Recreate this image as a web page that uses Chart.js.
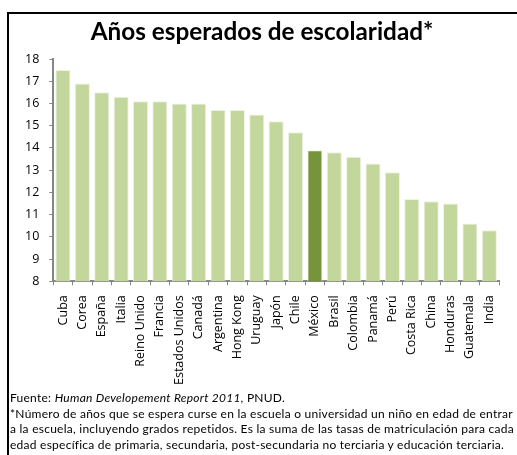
<!DOCTYPE html>
<html>
<head>
<meta charset="utf-8">
<script src="https://cdn.jsdelivr.net/npm/chart.js@4/dist/chart.umd.min.js"></script>
<style>
  html, body { margin: 0; padding: 0; background: #fff; }
  body { width: 517px; height: 455px; position: relative; overflow: hidden; font-family: Lato, 'Open Sans', sans-serif; }
  #frame { position: absolute; left: 7px; top: 12px; width: 520px; height: 460px;
           border-left: 2px solid #000; border-top: 2px solid #000; }
  #title { position: absolute; left: 0; top: 19px; width: 524px; text-align: center;
           font-size: 24.3px; font-weight: bold; line-height: 24px; color: #000; white-space: nowrap; }
  #wrap { position: absolute; left: 9px; top: 14px; width: 508px; height: 381px; }
  #notes { position: absolute; left: 10px; top: 390px; font-size: 12px; letter-spacing: 0.25px;
           line-height: 15.6px; color: #000; white-space: nowrap; }
</style>
</head>
<body>
<div id="frame"></div>
<div id="wrap"><canvas id="barChart"></canvas></div>
<div id="title">Años esperados de escolaridad*</div>
<div id="notes">
  <div>Fuente: <i>Human Developement Report 2011</i>, PNUD.</div>
  <div>*Número de años que se espera curse en la escuela o universidad un niño en edad de entrar</div>
  <div>a la escuela, incluyendo grados repetidos. Es la suma de las tasas de matriculación para cada</div>
  <div>edad específica de primaria, secundaria, post-secundaria no terciaria y educación terciaria.</div>
</div>
<script>
// ── Data ─────────────────────────────────────────
const countries = [
  'Cuba', 'Corea', 'España', 'Italia', 'Reino Unido', 'Francia', 'Estados Unidos', 'Canadá',
  'Argentina', 'Hong Kong', 'Uruguay', 'Japón', 'Chile', 'México', 'Brasil', 'Colombia',
  'Panamá', 'Perú', 'Costa Rica', 'China', 'Honduras', 'Guatemala', 'India',
];
const yearsExpected = [
  17.5, 16.9, 16.5, 16.3, 16.1, 16.1, 16.0, 16.0,
  15.7, 15.7, 15.5, 15.2, 14.7, 13.9, 13.8, 13.6,
  13.3, 12.9, 11.7, 11.6, 11.5, 10.6, 10.3,
];
const highlight = 'México';
const yTicks = [8, 9, 10, 11, 12, 13, 14, 15, 16, 17, 18];

const barColors = countries.map((c) => (c === highlight ? '#77933C' : '#C3D69B'));

Chart.defaults.font.family = "'Open Sans', sans-serif";
Chart.defaults.color = '#000';

new Chart(document.getElementById('barChart'), {
  type: 'bar',
  data: {
    labels: countries,
    datasets: [
      {
        data: yearsExpected,
        backgroundColor: barColors,
        borderColor: '#EEF3E2',
        borderWidth: 1,
        borderSkipped: false,
        barPercentage: 0.78,
        categoryPercentage: 1,
      },
    ],
  },
  options: {
    responsive: true,
    maintainAspectRatio: false,
    animation: false,
    layout: { padding: { left: 6, right: 18, top: 45, bottom: 0 } },
    plugins: {
      legend: { display: false },
      tooltip: { enabled: false },
    },
    scales: {
      x: {
        grid: { drawOnChartArea: false, drawTicks: true, tickLength: 4, color: '#868686' },
        border: { color: '#868686', width: 2 },
        ticks: { minRotation: 90, maxRotation: 90, autoSkip: false, padding: 10, font: { size: 12.5 } },
      },
      y: {
        min: yTicks[0],
        max: yTicks[yTicks.length - 1],
        afterBuildTicks: (axis) => { axis.ticks = yTicks.map((v) => ({ value: v })); },
        grid: { drawOnChartArea: false, drawTicks: true, tickLength: 4, color: '#868686' },
        border: { color: '#868686', width: 2 },
        ticks: { padding: 10, font: { size: 12.5 } },
      },
    },
  },
});
</script>
</body>
</html>
